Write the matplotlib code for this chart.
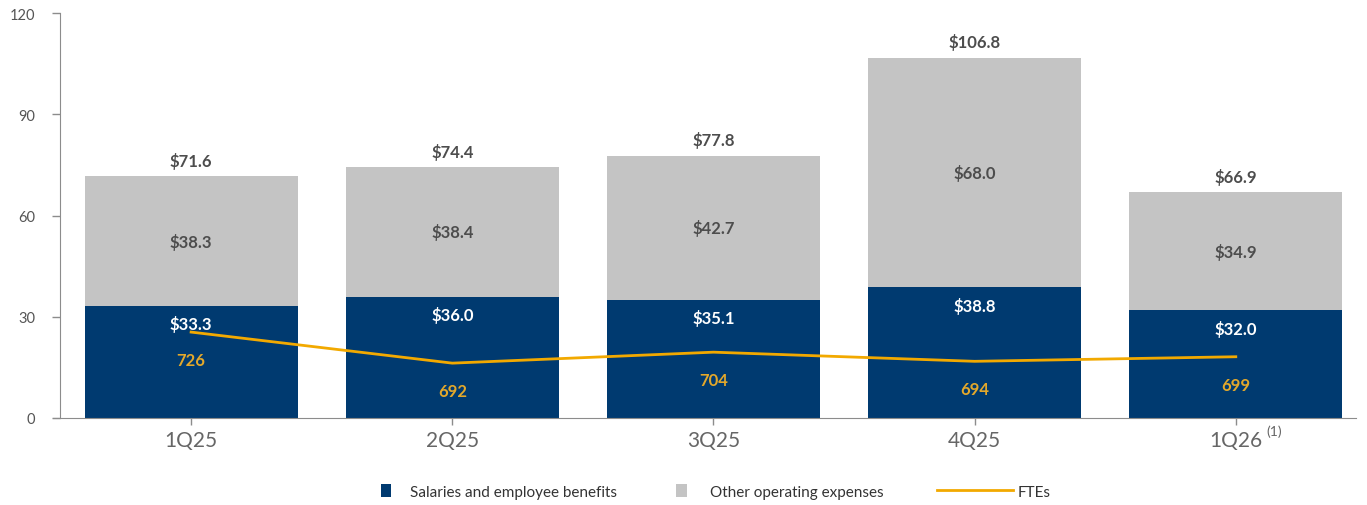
import matplotlib
matplotlib.use("Agg")
import matplotlib.pyplot as plt
from matplotlib.patches import Patch
from matplotlib.lines import Line2D
import numpy as np

quarters = ["1Q25", "2Q25", "3Q25", "4Q25", "1Q26"]
salaries = [33.3, 36.0, 35.1, 38.8, 32.0]
other_opex = [38.3, 38.4, 42.7, 68.0, 34.9]
totals = [71.6, 74.4, 77.8, 106.8, 66.9]
ftes = [726, 692, 704, 694, 699]

navy = "#003A70"
grey = "#C4C4C4"
gold = "#F2A900"
label_gold = "#E3A82B"
text_grey = "#4D4D4D"
axis_grey = "#8C8C8C"

plt.rcParams["font.family"] = ["Lato", "DejaVu Sans"]

fig = plt.figure(figsize=(13.67, 5.06), dpi=100)
ax = fig.add_axes([0.0439, 0.172, 0.948, 0.800])

x = np.arange(len(quarters))
w = 0.815
ax.bar(x, salaries, w, color=navy, zorder=2)
ax.bar(x, other_opex, w, bottom=salaries, color=grey, zorder=2)

for i in range(len(quarters)):
    ax.annotate(f"${salaries[i]:.1f}", (x[i], salaries[i]), xytext=(0, -13),
                textcoords="offset points", ha="center", va="center",
                color="white", fontsize=12, fontweight="bold", zorder=3)
    ax.text(x[i], salaries[i] + other_opex[i] / 2, f"${other_opex[i]:.1f}",
            ha="center", va="center", color=text_grey, fontsize=12,
            fontweight="bold", zorder=3)
    ax.annotate(f"${totals[i]:.1f}", (x[i], totals[i]), xytext=(0, 11.5),
                textcoords="offset points", ha="center", va="center",
                color=text_grey, fontsize=12, fontweight="bold")

ax.set_ylim(0, 120)
ax.set_xlim(-0.502, 4.46)
ax.set_yticks([0, 30, 60, 90, 120])
ax.set_xticks(x)
ax.set_xticklabels(quarters)
ax.tick_params(axis="y", labelsize=10.5, colors=axis_grey, labelcolor="#555555",
               length=6, width=1, pad=12)
ax.tick_params(axis="x", labelsize=15, colors=axis_grey, labelcolor="#666666",
               length=5, width=1, direction="out", pad=4)
for side in ["top", "right"]:
    ax.spines[side].set_visible(False)
ax.spines["left"].set_color(axis_grey)
ax.spines["bottom"].set_color(axis_grey)
ax.spines["bottom"].set_bounds(-0.53, 4.46)
ax.annotate("(1)", xy=(4, 0), xycoords=("data", "axes fraction"),
            xytext=(28, -9), textcoords="offset points", ha="center",
            va="center", fontsize=10, color="#666666")

# FTE count on its own hidden scale
ax2 = ax.twinx()
ax2.plot(x, ftes, color=gold, lw=2, zorder=4)
ax2.set_ylim(632, 1075)
ax2.axis("off")
for i in range(len(quarters)):
    ax2.annotate(str(ftes[i]), (x[i], ftes[i]), xytext=(0, -20),
                 textcoords="offset points", ha="center", va="center",
                 color=label_gold, fontsize=12, fontweight="bold")

legend_items = [
    (Patch(facecolor=navy), "Salaries and employee benefits", 0.274, 0.7, 1.2),
    (Patch(facecolor=grey), "Other operating expenses", 0.490, 0.7, 1.5),
    (Line2D([], [], color=gold, lw=2), "FTEs", 0.681, 5.0, 0.3),
]
for handle, text, xpos, hl, pad in legend_items:
    fig.legend([handle], [text], loc="center left", bbox_to_anchor=(xpos, 0.027),
               frameon=False, fontsize=11, handlelength=hl, handleheight=1.0,
               handletextpad=pad, labelcolor="#333333", borderaxespad=0)

fig.savefig("out.png", dpi=100)
